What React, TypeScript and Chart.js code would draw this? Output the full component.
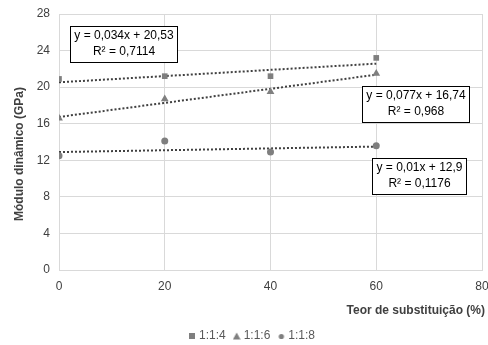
import React, { useEffect, useRef } from "react";
import { Chart, registerables } from "chart.js";

Chart.register(...registerables);

// Substitution content (%) and dynamic modulus (GPa) for each mix
const substitution = [0, 20, 40, 60];
const mix114 = [20.9, 21.2, 21.2, 23.2];
const mix116 = [16.6, 18.7, 19.5, 21.5];
const mix118 = [12.5, 14.1, 12.9, 13.6];
const mixLabels = ["1:1:4", "1:1:6", "1:1:8"];
const mixStyles = ["rect", "triangle", "circle"];

// Linear trend fits (y = a·x + b) and their R² labels
const slopes = [0.034, 0.077, 0.01];
const intercepts = [20.53, 16.74, 12.9];
const equationLabels = ["y = 0,034x + 20,53", "y = 0,077x + 16,74", "y = 0,01x + 12,9"];
const r2Labels = ["R² = 0,7114", "R² = 0,968", "R² = 0,1176"];
const trendRange = [0, 60];

const xTicks = [0, 20, 40, 60, 80];
const yTicks = [0, 4, 8, 12, 16, 20, 24, 28];

const FONT = "'Liberation Sans', Arial, sans-serif";
const MARK = "#7f7f7f";
const TREND = "#404040";

// Equation boxes: centre offsets from the plot area's top-left corner
const boxCentres = [
  [65, 30],
  [357, 90],
  [360.5, 161.5],
];

// Small legend glyphs so the three marker shapes come out at similar sizes
function legendGlyph(style: string): HTMLCanvasElement {
  const c = document.createElement("canvas");
  c.width = 8;
  c.height = 8;
  const g = c.getContext("2d")!;
  g.fillStyle = MARK;
  if (style === "rect") {
    g.fillRect(1, 1, 6, 6);
  } else if (style === "triangle") {
    g.beginPath();
    g.moveTo(4, 0.5);
    g.lineTo(7.8, 7.5);
    g.lineTo(0.2, 7.5);
    g.closePath();
    g.fill();
  } else {
    g.beginPath();
    g.arc(4, 4.5, 2.6, 0, Math.PI * 2);
    g.fill();
  }
  return c;
}

const equationBoxes = {
  id: "equationBoxes",
  afterDatasetsDraw(chart: any) {
    const { ctx, chartArea } = chart;
    ctx.save();
    ctx.font = `12px ${FONT}`;
    ctx.textAlign = "center";
    ctx.textBaseline = "middle";
    equationLabels.forEach((eq, i) => {
      const cx = chartArea.left + boxCentres[i][0];
      const cy = chartArea.top + boxCentres[i][1];
      const w = Math.max(ctx.measureText(eq).width, ctx.measureText(r2Labels[i]).width) + 8;
      const h = 36;
      ctx.fillStyle = "#ffffff";
      ctx.fillRect(Math.round(cx - w / 2) + 0.5, Math.round(cy - h / 2) + 0.5, Math.round(w), h);
      ctx.strokeStyle = "#000000";
      ctx.lineWidth = 1;
      ctx.strokeRect(Math.round(cx - w / 2) + 0.5, Math.round(cy - h / 2) + 0.5, Math.round(w), h);
      ctx.fillStyle = "#000000";
      ctx.fillText(eq, cx, cy - 8);
      ctx.fillText(r2Labels[i], cx, cy + 8);
    });
    ctx.restore();
  },
};

const axisTitles = {
  id: "axisTitles",
  afterDraw(chart: any) {
    const { ctx, chartArea } = chart;
    ctx.save();
    ctx.font = `bold 12px ${FONT}`;
    ctx.fillStyle = "#404040";
    ctx.textBaseline = "middle";
    ctx.textAlign = "right";
    ctx.fillText("Teor de substituição (%)", chartArea.right + 3, chartArea.bottom + 41);
    ctx.translate(20, (chartArea.top + chartArea.bottom) / 2 + 12);
    ctx.rotate(-Math.PI / 2);
    ctx.textAlign = "center";
    ctx.fillText("Módulo dinâmico (GPa)", 0, 0);
    ctx.restore();
  },
};

export default function App() {
  const canvasRef = useRef<HTMLCanvasElement | null>(null);

  useEffect(() => {
    if (!canvasRef.current) return;
    const seriesValues = [mix114, mix116, mix118];
    const glyphs = mixStyles.map(legendGlyph);
    const pointSets = seriesValues.map((vals, i) => ({
      label: mixLabels[i],
      data: substitution.map((x, j) => ({ x, y: vals[j] })),
      showLine: false,
      pointStyle: mixStyles[i],
      pointRadius: i === 0 ? 4 : i === 1 ? 4.5 : 3.5,
      backgroundColor: MARK,
      borderColor: MARK,
      borderWidth: 0,
      order: 1,
    }));
    const trendSets = slopes.map((a, i) => ({
      label: "trend " + mixLabels[i],
      data: trendRange.map((x) => ({ x, y: a * x + intercepts[i] })),
      showLine: true,
      borderColor: TREND,
      borderWidth: 2,
      borderDash: [2, 2],
      pointRadius: 0,
      fill: false,
      order: 2,
    }));

    const chart = new Chart(canvasRef.current, {
      type: "scatter",
      data: { datasets: [...pointSets, ...trendSets] as any },
      options: {
        animation: false,
        responsive: false,
        layout: { padding: { left: 24, right: 6, top: 14, bottom: -7 } },
        plugins: {
          tooltip: { enabled: false },
          legend: {
            position: "bottom",
            labels: {
              usePointStyle: true,
              boxWidth: 2,
              boxHeight: 8,
              padding: 10,
              color: "#595959",
              font: { family: FONT, size: 12 },
              generateLabels: (ch: any) =>
                mixLabels.map((text, i) => ({
                  text,
                  datasetIndex: i,
                  pointStyle: glyphs[i],
                  fillStyle: MARK,
                  strokeStyle: MARK,
                  lineWidth: 0,
                  fontColor: "#595959",
                  hidden: !ch.isDatasetVisible(i),
                })),
            },
          },
        },
        scales: {
          x: {
            type: "linear",
            min: xTicks[0],
            max: xTicks[xTicks.length - 1],
            afterBuildTicks: (s: any) => {
              s.ticks = xTicks.map((v) => ({ value: v }));
            },
            afterFit: (s: any) => {
              s.height = 50;
              s.paddingRight = 0;
              s.paddingLeft = 0;
            },
            ticks: { color: "#404040", font: { family: FONT, size: 12 }, padding: 9 },
            grid: { color: "#d9d9d9", drawTicks: false },
            border: { color: "#d9d9d9" },
          },
          y: {
            min: yTicks[0],
            max: yTicks[yTicks.length - 1],
            afterBuildTicks: (s: any) => {
              s.ticks = yTicks.map((v) => ({ value: v }));
            },
            afterFit: (s: any) => {
              s.width = 35;
              s.paddingTop = 0;
              s.paddingBottom = 0;
            },
            ticks: { color: "#404040", font: { family: FONT, size: 12 }, padding: 9 },
            grid: { color: "#d9d9d9", drawTicks: false },
            border: { color: "#d9d9d9" },
          },
        },
      },
      plugins: [equationBoxes, axisTitles],
    });
    return () => chart.destroy();
  }, []);

  return (
    <div style={{ position: "fixed", left: 0, top: 0, width: 488, height: 345, background: "#fff" }}>
      <canvas ref={canvasRef} width={488} height={345} style={{ display: "block" }} />
    </div>
  );
}
